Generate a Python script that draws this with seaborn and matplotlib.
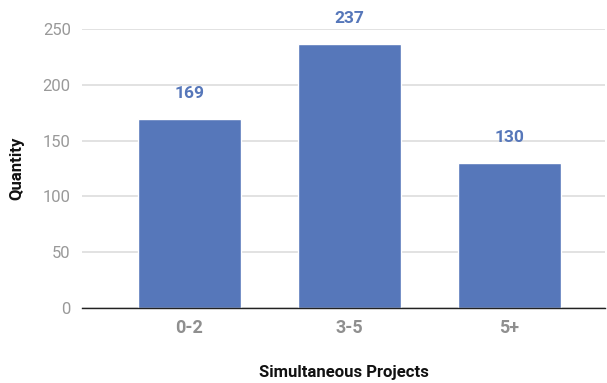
import matplotlib
matplotlib.use("Agg")
import matplotlib.pyplot as plt
import seaborn as sns
import pandas as pd

categories = ["0-2", "3-5", "5+"]
quantities = [169, 237, 130]
y_ticks = [0, 50, 100, 150, 200, 250]

sns.set_theme(style="white")
plt.rcParams["font.family"] = ["Roboto", "DejaVu Sans"]

df = pd.DataFrame({"Simultaneous Projects": categories, "Quantity": quantities})

bar_color = "#5677BA"
fig = plt.figure(figsize=(6.07, 3.83), dpi=100)
ax = fig.add_axes([0.135, 0.196, 0.862, 0.728])

sns.barplot(data=df, x="Simultaneous Projects", y="Quantity", color=bar_color,
            width=0.644, saturation=1, ax=ax, zorder=3)

ax.set_ylim(0, 250)
ax.set_xlim(-0.672, 2.6)
ax.set_yticks(y_ticks)
ax.yaxis.grid(True, color="#dddddd", linewidth=1.2, zorder=0)
ax.set_axisbelow(True)
for side in ["top", "right", "left"]:
    ax.spines[side].set_visible(False)
ax.spines["bottom"].set_color("#222222")
ax.spines["bottom"].set_linewidth(1.0)
ax.spines["bottom"].set_zorder(4)
ax.tick_params(axis="both", length=0)
ax.tick_params(axis="y", labelsize=12, labelcolor="#999999", pad=8)
ax.tick_params(axis="x", labelsize=13, labelcolor="#8f8f8f", pad=8)
for t in ax.get_xticklabels():
    t.set_fontweight("bold")

for i, v in enumerate(quantities):
    ax.annotate(str(v), (i, v), xytext=(0, 13), textcoords="offset points",
                ha="center", va="bottom", fontsize=12.5, fontweight="bold",
                color=bar_color, clip_on=False)

ax.set_xlabel("Simultaneous Projects", fontsize=12, fontweight="bold",
              color="#111111", labelpad=20)
ax.set_ylabel("Quantity", fontsize=12, fontweight="bold", color="#111111",
              labelpad=13)

fig.savefig("out.png", dpi=100)
